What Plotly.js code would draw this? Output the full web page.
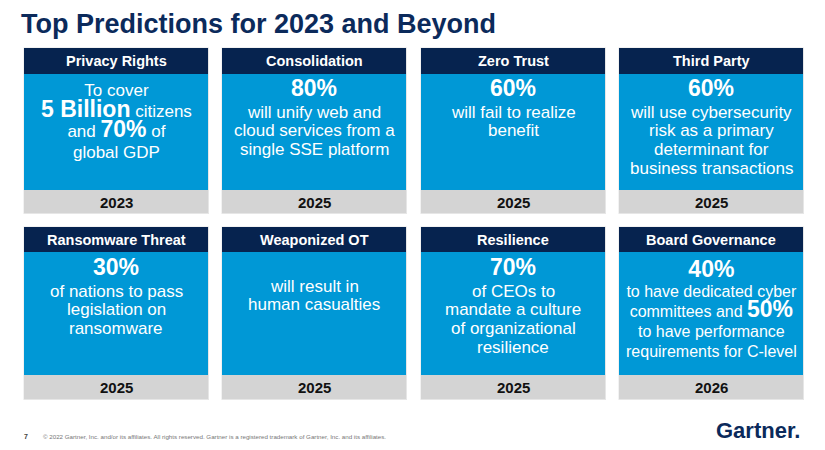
<!DOCTYPE html>
<html>
<head>
<meta charset="utf-8">
<script src="https://cdn.plot.ly/plotly-3.0.1.min.js"></script>
<style>html,body{margin:0;padding:0;background:#fff;}#chart{width:825px;height:450px;}</style>
</head>
<body>
<div id="chart"></div>
<script>
// ---------- data ----------
const chartTitle = "Top Predictions for 2023 and Beyond";
const categories = ["Privacy Rights", "Consolidation", "Zero Trust", "Third Party",
                    "Ransomware Threat", "Weaponized OT", "Resilience", "Board Governance"];
const years = ["2023", "2025", "2025", "2025", "2025", "2025", "2025", "2026"];
const headlines = [null, "80%", "60%", "60%", "30%", "", "70%", "40%"];
const bodyLines = [
  ["To cover", "**5 Billion** citizens", "and **70%** of", "global GDP"],
  ["will unify web and", "cloud services from a", "single SSE platform"],
  ["will fail to realize", "benefit"],
  ["will use cybersecurity", "risk as a primary", "determinant for", "business transactions"],
  ["of nations to pass", "legislation on", "ransomware"],
  ["will result in", "human casualties"],
  ["of CEOs to", "mandate a culture", "of organizational", "resilience"],
  ["to have dedicated cyber", "committees and **50%**", "to have performance", "requirements for C-level"]
];
const footerPage = "7";
const footerNote = "© 2022 Gartner, Inc. and/or its affiliates. All rights reserved. Gartner is a registered trademark of Gartner, Inc. and its affiliates.";
const brandName = "Gartner.";

// ---------- layout / style ----------
const FONT = "Liberation Sans, Arial, Helvetica, sans-serif";
const NAVY = "#06234f", BLUE = "#0098d6", GRAY = "#d4d4d4";
const colX = [24, 222, 421, 619];
const cardW = 184;
const rowBox = [
  {top: 48, head: 74, body: 190, foot: 213},
  {top: 227, head: 252, body: 375, foot: 399}
];
const bodyFont = [17, 17, 17, 17, 17, 17, 17, 16];
const bigFont = 23;

const shapes = [];
const annotations = [];

function rect(x0, x1, y0, y1, color) {
  shapes.push({type: "rect", xref: "x", yref: "y", x0, x1, y0, y1,
               fillcolor: color, line: {width: 0}, layer: "below"});
}
function text(x, y, t, size, color, opts) {
  annotations.push(Object.assign({x, y, xref: "x", yref: "y", text: t, showarrow: false,
    xanchor: "center", yanchor: "middle",
    font: {family: FONT, size, color}}, opts || {}));
}
function bigSpan(s) {
  return '<span style="font-size:' + bigFont + 'px"><b>' + s + '</b></span>';
}
function rich(line) {
  return line.replace(/\*\*(.+?)\*\*/g, (m, s) => bigSpan(s));
}
// every segment sized explicitly (used when lines are stacked in one text block)
function richSized(line, fs) {
  return line.split(/(\*\*.+?\*\*)/).filter(s => s.length).map(s =>
    s.startsWith("**") ? bigSpan(s.slice(2, -2)) : '<span style="font-size:' + fs + 'px">' + s + '</span>'
  ).join("");
}

categories.forEach((cat, i) => {
  const r = rowBox[Math.floor(i / 4)];
  const x0 = colX[i % 4], x1 = x0 + cardW, cx = (x0 + x1) / 2;
  // subtle edge
  shapes.push({type: "rect", xref: "x", yref: "y", x0: x0 - 0.5, x1: x1 + 1, y0: r.top - 0.5, y1: r.foot + 1,
               fillcolor: "#e6e6e6", line: {width: 0}, layer: "below"});
  rect(x0, x1, r.top, r.head, NAVY);
  rect(x0, x1, r.head, r.body, BLUE);
  rect(x0, x1, r.body, r.foot, GRAY);
  text(cx, (r.top + r.head) / 2, "<b>" + cat + "</b>", 14.5, "#ffffff");
  text(cx, (r.body + r.foot) / 2 + 0.5, "<b>" + years[i] + "</b>", 15, "#111111");

  const fs = bodyFont[i];
  const hasBig = bodyLines[i].some(l => l.indexOf("**") >= 0);

  if (hasBig) {
    // stack headline + body in one text block so mixed-size lines share one box
    const lines = (headlines[i] ? ["**" + headlines[i] + "**"] : []).concat(bodyLines[i]);
    const firstY = headlines[i] ? r.top + 40 : r.top + 41;
    const lastY = headlines[i] ? r.top + 120 : r.top + 103;
    const lead = (lastY - firstY) / (lines.length - 1) / 1.3;
    text(cx, (firstY + lastY) / 2 + 1, lines.map(l => richSized(l, fs)).join("<br>"), lead, "#ffffff");
    return;
  }

  const step = fs * 1.1;
  let y;
  if (headlines[i] === null) {
    y = r.top + 41;
  } else if (headlines[i] === "") {
    y = r.top + 59;
  } else {
    text(cx, r.top + 40, "<b>" + headlines[i] + "</b>", bigFont, "#ffffff");
    y = r.top + 64;
  }
  bodyLines[i].forEach((line, j) => {
    if (j > 0) y += step;
    text(cx, y, rich(line), fs, "#ffffff");
  });
});

// title
text(19, 24, "<b>" + chartTitle + "</b>", 27, "#0b2a5b", {xanchor: "left"});
// footer
text(22, 436, "<b>" + footerPage + "</b>", 7, "#444444", {xanchor: "left"});
text(41, 436, footerNote, 6.2, "#777777", {xanchor: "left"});
text(714, 430.5, "<b>" + brandName + "</b>", 22, "#0b2a5b", {xanchor: "left"});

const layout = {
  width: 825, height: 450,
  margin: {l: 0, r: 0, t: 0, b: 0, pad: 0},
  paper_bgcolor: "#ffffff", plot_bgcolor: "#ffffff",
  showlegend: false,
  xaxis: {range: [0, 825], visible: false, fixedrange: true},
  yaxis: {range: [450, 0], visible: false, fixedrange: true},
  shapes, annotations
};

Plotly.newPlot("chart", [{type: "scatter", x: [], y: [], hoverinfo: "skip"}], layout,
               {staticPlot: true, displayModeBar: false});
</script>
</body>
</html>
